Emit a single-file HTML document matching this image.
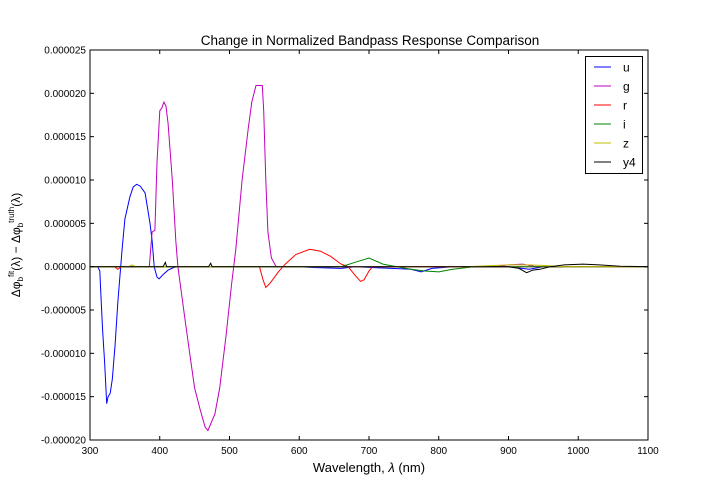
<!DOCTYPE html>
<html><head><meta charset="utf-8">
<style>
html,body{margin:0;padding:0;background:#fff;}
svg{display:block;font-family:"Liberation Sans","DejaVu Sans",sans-serif;}
</style></head>
<body>
<svg id="chart" width="720" height="504" viewBox="0 0 720 504">
<rect width="720" height="504" fill="#fff"/>
<text x="370" y="45" text-anchor="middle" font-size="13.5">Change in Normalized Bandpass Response Comparison</text>
<g id="grid"></g>
<g id="series"></g>
<rect x="90" y="50" width="558" height="390" fill="none" stroke="#000" stroke-width="1"/>
<g id="ticks"></g>
<text x="369" y="472" text-anchor="middle" font-size="13">Wavelength, <tspan font-style="italic">λ</tspan> (nm)</text>
<text transform="translate(20,245) rotate(-90)" text-anchor="middle" font-size="12">Δφ<tspan font-size="8" dy="3">b</tspan><tspan font-size="8" dy="-9">fit</tspan><tspan dy="6">(λ) − Δφ</tspan><tspan font-size="8" dy="3">b</tspan><tspan font-size="8" dy="-9">truth</tspan><tspan dy="6">(λ)</tspan></text>
<g id="legend"></g>
</svg>
<script>
const xTicks=[300,400,500,600,700,800,900,1000,1100];
const yTicks=[25,20,15,10,5,0,-5,-10,-15,-20];
const yTickLabels=["0.000025","0.000020","0.000015","0.000010","0.000005","0.000000","-0.000005","-0.000010","-0.000015","-0.000020"];
const bandNames=["u","g","r","i","z","y4"];
const bandColors=["#0000ff","#bf00bf","#ff0000","#008000","#bfbf00","#000000"];
// values in units of 1e-6, [wavelength, value]
const uData=[[300,0],[311,0],[314,-0.5],[316,-4],[318,-7.3],[321,-11],[324,-15.8],[326,-15],[329,-14.6],[332,-13],[336,-9],[340,-4],[344,0],[346,2],[350,5.5],[357,8],[362,9.2],[367,9.5],[372,9.3],[379,8.5],[386,5],[389,3],[392,0],[396,-1.2],[399,-1.4],[405,-0.9],[412,-0.4],[420,-0.1],[425,0],[600,0],[620,-0.1],[660,-0.2],[680,0],[760,-0.3],[775,-0.6],[790,-0.2],[820,0],[900,0],[930,-0.3],[950,0],[1100,0]];
const gData=[[300,0],[385,0],[389,4],[393,4.2],[396,12],[400,18],[403,18.3],[406,19],[409,18.5],[412,16.5],[418,10],[423,3],[426,0],[436,-6],[443,-10],[450,-14],[458,-16.5],[465,-18.5],[469,-18.9],[479,-17],[486,-14],[495,-8],[503,-2],[509,2],[518,10],[527,16],[532,19],[538,20.9],[547,20.9],[549,18],[552,10],[555,4],[560,1],[567,0],[880,0],[900,0.2],[920,0.3],[940,0],[1100,0]];
const rData=[[300,0],[335,0],[340,-0.3],[345,0],[543,0],[548,-1.5],[552,-2.4],[557,-2],[562,-1.5],[570,-0.6],[580,0.3],[595,1.4],[615,2.0],[630,1.8],[645,1.2],[660,0.3],[670,0],[680,-1],[688,-1.7],[693,-1.5],[700,-0.5],[705,0],[1100,0]];
const iData=[[300,0],[660,0],[680,0.5],[700,1.0],[720,0.3],[740,0],[760,-0.3],[780,-0.5],[800,-0.6],[820,-0.3],[850,0],[1100,0]];
const zData=[[300,0],[355,0],[360,0.2],[366,0],[840,0],[870,0.1],[900,0.2],[930,0.2],[960,0.1],[980,0],[1100,0]];
const yData=[[300,0],[405,0],[408,0.5],[410,0],[470,0],[473,0.4],[475,0],[900,0],[915,-0.2],[926,-0.7],[935,-0.4],[945,-0.3],[960,0],[980,0.2],[1007,0.3],[1030,0.2],[1060,0.05],[1100,0]];
const allData=[uData,gData,rData,iData,zData,yData];

const X0=90,X1=648,Y0=440,Y1=50;
const xs=v=>X0+(v-300)/(1100-300)*(X1-X0);
const ys=v=>Y0-(v+20)/(45)*(Y0-Y1);
const NS="http://www.w3.org/2000/svg";
function mk(tag,attrs,parent){const e=document.createElementNS(NS,tag);for(const k in attrs)e.setAttribute(k,attrs[k]);parent.appendChild(e);return e;}
const ticks=document.getElementById('ticks');
xTicks.forEach(t=>{
  const x=xs(t);
  const a=mk('line',{x1:x,x2:x,y1:Y0,y2:Y0-4,stroke:'#000'},ticks);
  
  
  const b=mk('line',{x1:x,x2:x,y1:Y1,y2:Y1+4,stroke:'#000'},ticks);
  
  
  const l=mk('text',{x:x,y:Y0+14,'text-anchor':'middle','font-size':'10'},ticks);
  l.textContent=t;
  
  
});
yTicks.forEach((t,i)=>{
  const y=ys(t);
  const a=mk('line',{x1:X0,x2:X0+4,y1:y,y2:y,stroke:'#000'},ticks);
  
  
  const b=mk('line',{x1:X1,x2:X1-4,y1:y,y2:y,stroke:'#000'},ticks);
  
  
  const l=mk('text',{x:X0-4,y:y+3.5,'text-anchor':'end','font-size':'10'},ticks);
  l.textContent=yTickLabels[i];
  
  
});
const sg=document.getElementById('series');
allData.forEach((d,i)=>{
  const p=mk('polyline',{points:d.map(q=>xs(q[0]).toFixed(1)+','+ys(q[1]).toFixed(1)).join(' '),fill:'none',stroke:bandColors[i],'stroke-width':'1'},sg);
  
  
});
const lg=document.getElementById('legend');
const box=mk('rect',{x:585.5,y:56.5,width:57,height:117,fill:'#fff',stroke:'#000'},lg);


bandNames.forEach((n,i)=>{
  const y=67+i*19;
  const g=mk('g',{},lg);
  
  
  mk('line',{x1:594,x2:611,y1:y,y2:y,stroke:bandColors[i]},g);
  const t=mk('text',{x:623,y:y+4.5,'font-size':'12'},g);
  t.textContent=n;
});
</script>
</body></html>
